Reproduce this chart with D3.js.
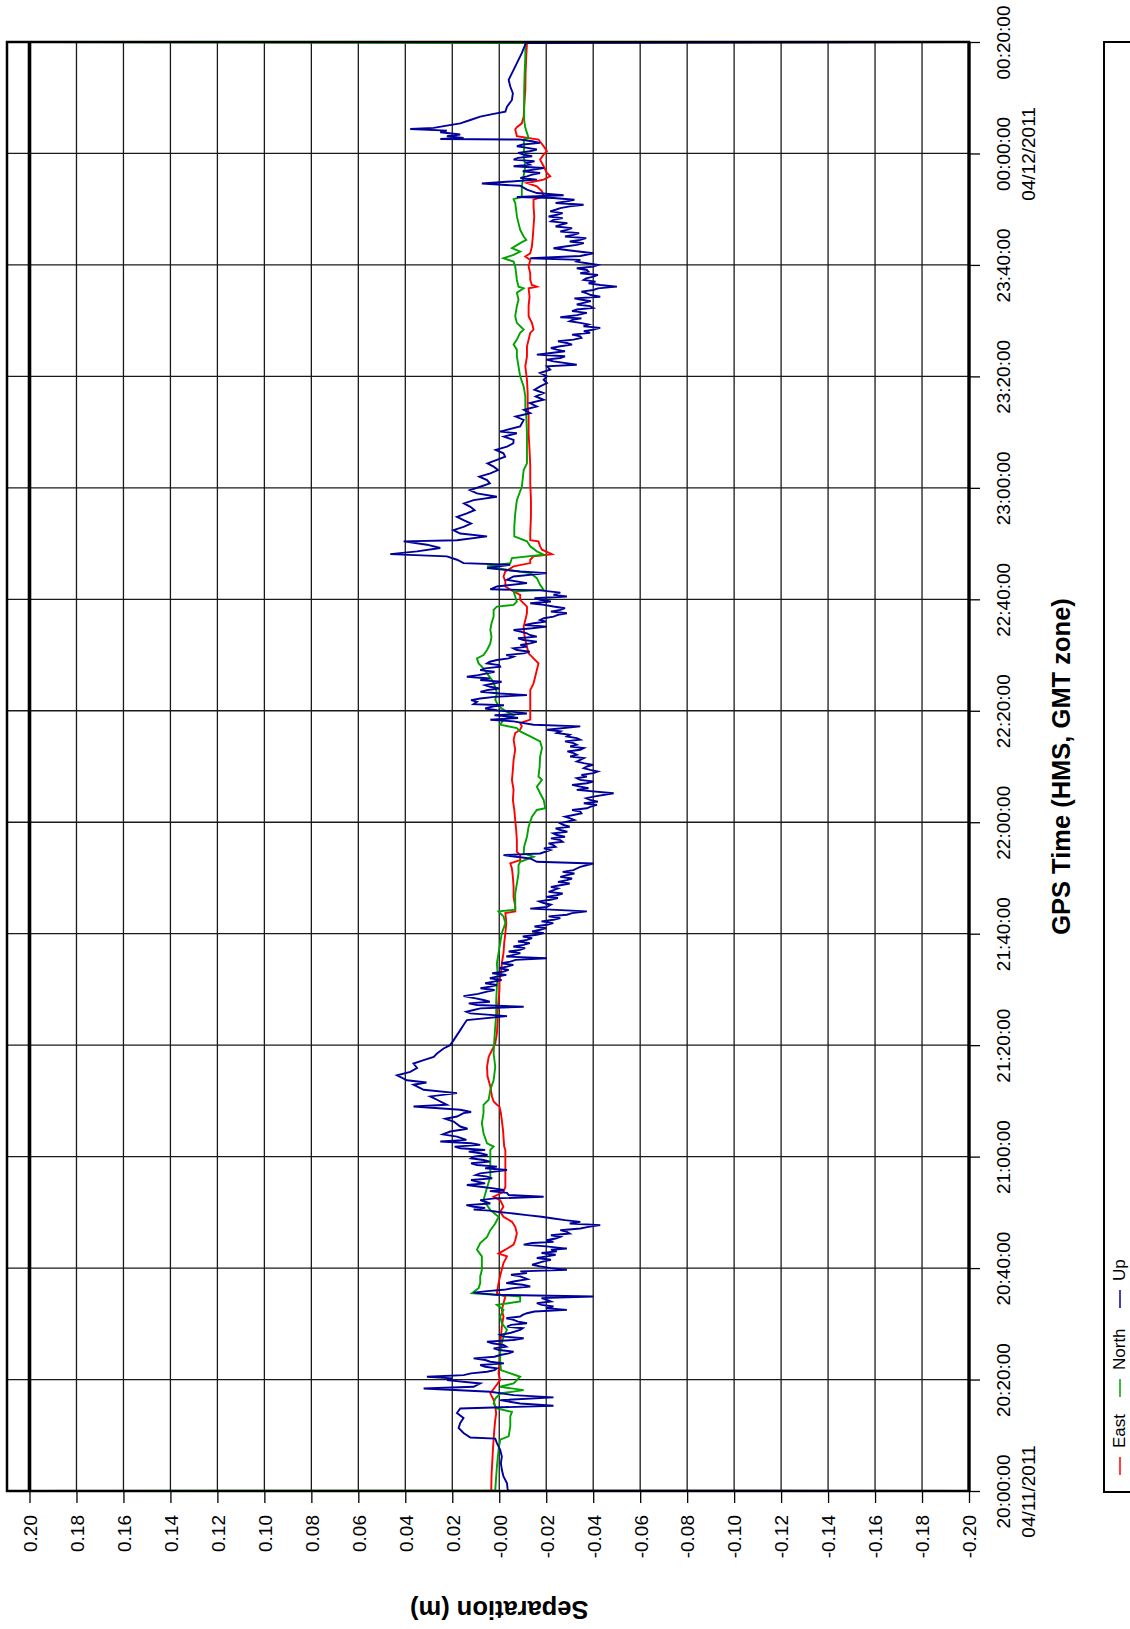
<!DOCTYPE html>
<html><head><meta charset="utf-8">
<script src="https://cdn.jsdelivr.net/npm/d3@7"></script>
<style>
body{margin:0;background:#fff}
svg{display:block}
text{font-family:"Liberation Sans",Arial,sans-serif;fill:#000}
</style>
</head><body>
<svg id="chart" width="1130" height="1629"></svg>
<script>
// ---------- data ----------
const timeDomain = ["2011-04-11T20:00:00Z", "2011-04-12T00:20:00Z"];
const valueTicks = [0.20,0.18,0.16,0.14,0.12,0.10,0.08,0.06,0.04,0.02,0,-0.02,-0.04,-0.06,-0.08,-0.10,-0.12,-0.14,-0.16,-0.18,-0.20];
const valueTickLabels = ["0.20","0.18","0.16","0.14","0.12","0.10","0.08","0.06","0.04","0.02","-0.00","-0.02","-0.04","-0.06","-0.08","-0.10","-0.12","-0.14","-0.16","-0.18","-0.20"];
const seriesNames = ["East","North","Up"];
const seriesColors = ["#ff0000","#00a300","#00009a"];
const xTitle = "GPS Time (HMS, GMT zone)";
const yTitle = "Separation (m)";

// [minutes after 20:00:00, separation in mm]
const eastData = [
[0,3.0],[0.2,3.4],[2.6,3.3],[5.0,3.0],[7.4,2.7],[9.2,2.4],[11.0,2.1],[12.8,1.7],[13.9,1.3],[15.1,1.7],[16.3,2.4],[17.5,3.8],[18.7,1.7],[19.9,-0.4],[21.1,0.3],[22.9,-0.1],[25.3,-0.4],[27.7,-0.7],[29.5,-1.1],[31.3,-1.8],[32.5,-1.1],[33.7,-1.8],[34.9,-2.6],[35.5,1.0],[37.3,0.3],[39.1,-0.7],[40.9,-1.8],[42.1,-3.3],[42.6,0.3],[43.3,-2.6],[44.2,-6.1],[45.0,-6.8],[46.2,-7.5],[47.4,-6.8],[48.3,-5.4],[49.2,-1.8],[50.1,-0.4],[51.0,-1.8],[52.2,-0.4],[52.8,2.4],[53.7,-1.8],[54.6,-2.6],[57.6,-2.6],[61.2,-2.6],[61.8,-2.1],[64.8,-1.6],[67.8,-0.7],[69.0,-0.1],[69.3,1.0],[69.9,2.4],[70.8,3.1],[72.6,3.8],[74.4,5.0],[76.1,5.2],[77.9,4.5],[79.1,3.1],[80.3,1.7],[82.1,1.0],[84.5,0.7],[86.3,0.7],[88.1,0.3],[89.9,-0.1],[91.7,-0.1],[92.9,-0.7],[94.7,-1.1],[96.5,-1.8],[98.3,-2.1],[100.1,-2.6],[101.9,-3.0],[103.7,-2.6],[104.0,-6.8],[104.9,-6.8],[106.6,-6.1],[108.4,-6.1],[110.2,-5.8],[111.7,-5.4],[112.6,-4.7],[113.2,-8.9],[114.1,-8.9],[114.7,-7.5],[116.8,-7.5],[118.6,-7.2],[120.4,-6.8],[122.2,-6.4],[124.0,-5.8],[125.8,-6.1],[127.6,-5.4],[129.4,-5.8],[131.2,-6.1],[133.0,-6.8],[134.8,-6.1],[136.0,-6.8],[136.6,-8.9],[137.2,-9.6],[137.8,-8.9],[138.4,-13.2],[140.1,-13.2],[142.5,-13.2],[143.7,-13.2],[144.9,-14.6],[146.1,-15.3],[147.3,-16.0],[148.5,-16.7],[149.4,-14.6],[150.3,-12.5],[151.5,-11.8],[152.7,-11.1],[153.9,-10.6],[155.1,-10.4],[156.3,-11.1],[157.5,-11.8],[158.7,-11.8],[159.9,-8.9],[160.8,-8.9],[161.4,-6.1],[162.3,-2.6],[163.2,-2.6],[164.1,-1.8],[165.0,-2.6],[165.9,-6.1],[166.5,-13.2],[167.1,-13.2],[167.7,-14.6],[168.1,-22.4],[168.9,-18.2],[169.5,-17.4],[170.4,-16.7],[170.6,-13.2],[171.8,-13.2],[174.8,-13.5],[177.8,-13.5],[180.8,-13.2],[183.8,-13.2],[186.8,-12.9],[189.8,-12.5],[192.8,-12.5],[194.6,-12.1],[197.0,-12.1],[199.4,-11.8],[201.8,-11.1],[203.6,-11.8],[205.4,-11.8],[206.6,-12.5],[207.8,-13.2],[208.4,-14.6],[209.6,-13.9],[210.8,-12.5],[212.6,-12.5],[214.3,-12.9],[215.8,-12.5],[216.1,-16.0],[216.4,-13.9],[217.3,-13.2],[218.5,-13.2],[219.7,-12.5],[220.9,-13.2],[221.5,-11.1],[222.1,-13.2],[223.3,-13.9],[225.1,-14.3],[226.9,-14.6],[228.7,-14.9],[230.5,-14.6],[231.7,-14.6],[232.3,-18.9],[233.2,-18.2],[234.1,-16.0],[234.7,-11.8],[235.3,-18.9],[235.9,-21.7],[236.5,-20.3],[237.7,-18.9],[238.9,-17.4],[239.8,-18.9],[240.4,-20.3],[241.3,-18.9],[242.5,-16.7],[243.1,-7.5],[244.3,-6.8],[244.7,-7.5],[245.4,-9.6],[246.6,-10.4],[248.4,-10.6],[251.4,-11.1],[254.4,-11.2],[257.4,-11.5],[259.8,-11.8],[260.0,-11.8]
];

const northData = [
[0,200],[0.1,1.4],[0.2,1.7],[4.4,1.0],[7.4,0.3],[9.2,-0.4],[9.8,-4.0],[11.6,-4.7],[13.4,-4.7],[14.2,-5.4],[14.8,1.0],[15.7,2.4],[16.6,1.7],[17.5,-0.4],[18.1,-10.4],[18.7,-0.4],[19.3,-6.1],[19.9,-7.5],[20.5,-8.9],[21.7,-0.7],[23.5,-0.4],[25.3,-0.4],[26.5,-1.1],[27.7,-1.8],[28.9,-3.3],[30.1,-1.1],[31.3,-0.4],[32.5,-1.8],[33.4,1.0],[34.0,-8.9],[34.9,-8.9],[35.5,11.6],[36.4,8.8],[37.3,8.1],[38.5,8.1],[39.7,7.4],[40.9,7.4],[42.1,7.4],[43.3,9.5],[44.5,8.1],[45.6,5.2],[46.8,3.8],[48.0,1.7],[49.2,0.3],[50.4,3.8],[52.2,6.7],[54.0,5.5],[56.4,3.8],[58.8,3.8],[61.2,3.8],[61.8,2.4],[62.4,5.2],[64.2,6.7],[66.0,7.4],[67.8,6.7],[69.3,6.7],[70.2,4.5],[72.0,3.8],[73.7,2.4],[76.1,1.7],[78.5,2.4],[80.9,2.1],[83.3,1.7],[85.7,1.3],[88.1,1.3],[90.5,1.0],[92.9,0.7],[94.7,1.0],[96.5,0.3],[98.3,-0.4],[100.1,-1.1],[101.9,-2.6],[103.1,-1.8],[104.0,0.3],[104.3,-6.8],[105.5,-6.8],[107.2,-6.8],[109.0,-7.5],[110.8,-8.2],[112.3,-8.2],[112.9,-8.9],[113.8,-14.6],[114.4,-10.4],[115.6,-10.6],[117.4,-11.8],[119.2,-12.5],[121.0,-13.9],[122.2,-16.0],[122.5,-19.6],[124.0,-18.9],[125.2,-17.4],[126.4,-16.0],[127.6,-18.2],[128.2,-16.7],[130.0,-17.2],[131.8,-17.4],[133.3,-18.2],[134.5,-17.4],[135.4,-13.2],[136.3,-8.9],[136.9,-7.5],[137.5,-0.4],[138.4,-1.8],[139.2,-6.1],[139.8,-3.3],[140.8,0.3],[142.0,1.7],[143.1,1.0],[144.3,1.7],[145.5,3.1],[146.7,5.2],[147.6,6.7],[148.5,8.8],[149.4,9.5],[150.0,6.7],[150.9,5.2],[152.1,3.8],[153.3,3.3],[154.5,3.8],[155.7,3.3],[156.9,2.4],[158.1,2.4],[158.7,1.0],[159.0,-6.1],[159.6,-7.5],[160.5,-6.8],[161.4,-6.1],[161.7,-18.9],[162.6,-17.4],[163.8,-16.0],[164.7,-13.2],[165.3,-3.3],[165.9,5.2],[166.5,-4.7],[167.4,-5.4],[168.0,-18.9],[168.6,-16.0],[169.5,-13.2],[170.4,-11.8],[171.3,-6.4],[173.0,-6.4],[175.4,-6.8],[177.8,-7.5],[180.2,-9.6],[182.0,-10.1],[183.2,-10.4],[184.4,-11.8],[186.8,-11.8],[189.8,-11.8],[192.8,-11.5],[194.6,-11.1],[196.4,-11.1],[198.2,-10.4],[200.0,-8.9],[201.8,-8.2],[203.6,-7.5],[204.8,-7.5],[205.7,-6.1],[206.6,-7.5],[207.8,-8.9],[208.4,-10.4],[209.6,-7.5],[210.8,-6.8],[212.6,-7.5],[213.8,-8.2],[215.0,-7.5],[215.8,-10.4],[216.1,-8.2],[217.3,-7.5],[218.5,-7.2],[219.7,-6.8],[220.6,-6.1],[221.2,-1.8],[221.8,-6.1],[222.4,-8.9],[223.0,-5.4],[223.9,-8.9],[224.5,-11.5],[225.1,-10.4],[226.3,-8.9],[227.5,-8.2],[228.7,-7.5],[229.9,-7.2],[231.1,-6.8],[231.8,-6.1],[232.2,-9.6],[232.9,-9.6],[234.1,-9.6],[235.3,-10.1],[236.5,-10.6],[237.7,-11.1],[239.5,-10.4],[241.3,-10.6],[242.5,-10.4],[242.8,-12.5],[243.7,-11.8],[244.6,-11.1],[246.0,-10.6],[248.4,-10.6],[251.4,-10.6],[254.4,-10.8],[257.4,-11.1],[259.8,-11.1],[260.0,200]
];

const upData = [
[0,-200],[0.1,-3.7],[0.5,-3.5],[1.4,-3.3],[2.6,-1.8],[3.8,-1.1],[5.0,-0.7],[6.2,-1.1],[7.4,-0.4],[8.6,1.0],[9.4,1.7],[9.6,12.3],[10.4,15.2],[11.3,17.3],[12.2,16.6],[13.1,15.2],[14.0,18.0],[14.8,16.6],[15.3,-23.1],[15.7,-8.9],[16.3,-0.4],[16.8,-23.1],[17.2,-6.1],[17.8,3.8],[18.4,32.2],[18.7,10.9],[19.3,8.1],[19.9,22.3],[20.2,20.0],[20.5,30.8],[20.8,15.2],[21.1,12.0],[21.4,5.2],[21.7,2.0],[22.0,1.0],[22.3,6.0],[22.6,8.1],[22.9,-2.0],[23.2,3.8],[23.5,6.0],[23.8,10.9],[24.1,2.0],[24.4,-0.4],[24.7,-4.0],[25.0,-6.1],[25.3,0.0],[25.6,2.4],[25.9,-3.0],[26.2,-1.8],[26.5,3.0],[26.8,5.2],[27.1,-6.0],[27.4,-10.4],[27.7,-2.0],[28.0,-0.4],[28.4,-5.0],[28.9,-8.9],[29.2,-10.0],[29.5,-3.3],[29.8,-5.0],[30.1,-11.8],[30.4,-8.0],[30.7,-6.1],[31.0,-3.0],[31.3,-8.9],[31.6,-10.0],[31.9,-11.8],[32.2,-15.0],[32.5,-28.8],[32.8,-20.0],[33.1,-23.1],[33.4,-18.0],[33.7,-16.0],[34.0,-22.0],[34.3,-20.3],[34.6,-18.0],[34.9,-40.1],[35.2,1.0],[35.6,10.9],[35.9,4.0],[36.1,-1.8],[36.4,-6.0],[36.7,-13.2],[37.0,-10.0],[37.3,-3.0],[37.6,-6.1],[38.0,-12.0],[38.5,-8.9],[38.8,-5.0],[39.1,-11.8],[39.4,-9.0],[39.7,-28.8],[40.0,-22.0],[40.3,-17.4],[40.6,-14.0],[41.2,-18.9],[41.5,-22.0],[41.8,-16.0],[42.1,-20.3],[42.4,-24.0],[42.7,-18.0],[43.0,-24.5],[43.3,-22.0],[43.5,-28.8],[43.9,-20.0],[44.2,-10.4],[44.5,-14.0],[44.7,-23.1],[45.0,-20.0],[45.3,-24.0],[45.6,-26.0],[45.9,-22.0],[46.2,-30.0],[46.5,-28.8],[46.8,-26.0],[47.1,-34.5],[47.4,-38.0],[47.7,-43.0],[48.0,-30.0],[48.3,-34.5],[48.6,-28.0],[48.9,-23.1],[49.2,-18.0],[49.5,-11.8],[49.8,-6.0],[50.1,1.0],[50.3,4.0],[50.5,10.9],[50.8,6.0],[51.0,10.9],[51.3,14.0],[51.6,3.8],[51.9,6.0],[52.2,8.1],[52.5,2.0],[52.8,-18.9],[53.1,-4.0],[53.5,-3.3],[53.8,4.0],[54.0,-2.0],[54.3,2.4],[54.6,8.0],[54.9,13.8],[55.2,6.0],[55.5,9.5],[55.8,12.0],[56.1,3.0],[56.4,5.2],[56.7,10.0],[57.0,8.1],[57.3,2.0],[57.6,-3.3],[57.9,6.0],[58.2,1.0],[58.5,9.5],[58.8,12.0],[59.1,4.0],[59.4,6.7],[59.7,12.0],[60.0,10.9],[60.3,5.0],[60.6,8.1],[60.9,13.0],[61.2,6.0],
[61.5,16.6],[61.8,19.0],[62.1,8.1],[62.4,12.0],[62.7,25.1],[63.0,14.0],[63.6,18.0],[64.0,24.0],[64.5,20.9],[65.0,13.5],[65.4,16.6],[66.3,19.4],[66.8,23.0],[67.2,18.0],[67.8,15.2],[68.0,12.0],[68.4,16.6],[69.0,36.5],[69.3,22.3],[70.2,26.5],[70.8,29.4],[71.4,18.0],[72.0,32.2],[72.9,36.5],[73.3,31.0],[73.7,39.3],[74.6,43.5],[75.2,37.9],[75.9,35.0],[76.7,36.5],[77.3,32.2],[77.9,27.9],[78.5,26.5],[79.4,23.7],[80.0,20.9],[80.9,19.4],[81.8,18.0],[82.7,16.6],[83.6,15.2],[84.5,13.8],[85.2,-3.3],[85.7,12.3],[86.0,14.0],[86.3,10.9],[86.6,8.0],[86.9,-10.4],[87.2,9.5],[87.5,13.0],[87.8,4.0],[88.1,6.7],[88.4,10.0],[88.8,15.2],[89.2,9.0],[89.6,5.2],[89.9,2.0],[90.2,8.0],[90.5,3.8],[90.8,1.0],[91.1,6.0],[91.4,2.4],[91.7,-1.0],[92.0,4.0],[92.3,1.0],[92.6,-3.0],[92.9,3.0],[93.2,-1.8],[93.5,-4.0],[93.8,0.0],[94.1,-3.3],[94.4,-6.0],[94.7,-1.0],[95.0,-4.7],[95.3,-7.0],[95.6,-20.3],[95.9,-3.0],[96.2,-6.1],[96.5,-9.0],[96.8,-4.0],[97.1,-8.9],[97.4,-11.0],[97.7,-6.0],[98.0,-10.4],[98.3,-13.0],[98.6,-8.0],[98.9,-11.8],[99.2,-14.0],[99.5,-10.0],[99.8,-16.0],[100.1,-19.0],[100.4,-14.0],[100.7,-17.4],[101.0,-20.0],[101.3,-15.0],[101.6,-20.3],[101.9,-23.0],[102.2,-18.0],[102.5,-23.1],[102.8,-26.0],[103.1,-21.0],[103.4,-28.8],[103.7,-31.0],[104.0,-37.3],[104.5,-13.2],[104.8,-20.3],[105.2,-22.0],[105.5,-18.9],[105.8,-17.0],[106.1,-21.7],[106.4,-25.0],[106.6,-20.0],[106.9,-24.5],[107.2,-27.0],[107.5,-21.0],[107.8,-23.1],[108.1,-25.0],[108.4,-22.0],[108.7,-26.0],[109.0,-30.0],[109.3,-25.0],[109.6,-28.8],[109.9,-31.0],[110.2,-26.0],[110.5,-28.8],[110.8,-32.0],[111.1,-27.0],[111.4,-31.6],[111.7,-33.0],[112.0,-34.5],[112.6,-40.1],[112.9,-16.0],[113.5,-13.2],[114.1,-1.8],[114.4,-17.4],[115.0,-21.7],[115.3,-19.0],[115.6,-24.0],[115.9,-23.1],[116.2,-21.0],[116.5,-27.0],[116.8,-26.0],[117.1,-22.0],[117.4,-28.0],[117.7,-24.5],[118.0,-23.0],[118.3,-29.0],[118.6,-26.0],[118.9,-24.0],[119.2,-30.0],[119.5,-27.4],[119.8,-26.0],[120.1,-28.8],[120.4,-32.0],[120.7,-30.2],[121.0,-28.0],[121.3,-31.6],[121.6,-35.0],[121.9,-34.5],[122.2,-31.0],[122.5,-37.3],[122.8,-39.0],[123.1,-41.6],[123.4,-36.0],[123.7,-42.0],[124.0,-38.7],[124.3,-37.0],[124.6,-40.1],
[125.2,-48.7],[125.8,-33.0],[126.1,-38.0],[126.4,-34.5],[126.7,-31.0],[127.0,-37.3],[127.3,-40.0],[127.6,-34.5],[127.9,-33.0],[128.2,-37.3],[128.5,-35.0],[128.8,-40.1],[129.1,-42.0],[129.4,-38.7],[129.7,-36.0],[130.0,-37.3],[130.3,-40.0],[130.6,-35.9],[130.9,-33.0],[131.2,-34.5],[131.5,-36.0],[131.8,-30.2],[132.1,-33.0],[132.4,-31.6],[132.7,-29.0],[133.0,-34.5],[133.3,-36.0],[133.6,-30.2],[133.9,-33.0],[134.2,-31.6],[134.5,-28.0],[134.8,-34.5],[135.1,-33.0],[135.4,-28.8],[135.7,-30.0],[136.0,-24.5],[136.3,-26.0],[136.6,-20.3],[137.2,-34.5],[137.5,-14.6],[138.1,-6.1],[138.4,3.8],[138.7,-8.0],[139.0,-3.3],[139.2,2.0],[139.5,-11.8],[139.8,-6.0],[140.1,1.0],[140.4,6.0],[140.8,2.4],[141.0,-2.0],[141.2,10.9],[141.6,9.5],[141.9,12.0],[142.2,8.1],[142.5,2.0],[142.8,-11.8],[143.1,-0.4],[143.4,8.0],[143.7,5.2],[144.0,0.0],[144.3,3.8],[144.6,6.0],[144.9,2.4],[145.2,-1.0],[145.5,8.1],[145.8,4.0],[146.1,13.8],[146.4,9.0],[146.7,5.2],[147.0,2.0],[147.3,8.1],[147.6,6.0],[147.9,-0.4],[148.2,0.0],[148.5,5.2],[148.8,4.0],[149.1,1.0],[149.4,-4.0],[149.7,-6.1],[150.0,-3.0],[150.3,-10.4],[150.6,-13.0],[150.9,-7.5],[151.2,-6.0],[151.5,-11.8],[151.8,-9.0],[152.1,-13.2],[152.4,-16.0],[152.7,-10.4],[153.0,-8.0],[153.3,-16.0],[153.6,-13.0],[153.9,-11.8],[154.2,-9.0],[154.5,-6.1],[154.8,-14.0],[155.1,-20.3],[155.4,-11.0],[155.7,-14.6],[156.0,-20.0],[156.3,-17.4],[156.6,-19.0],[156.9,-23.1],[157.2,-25.0],[157.5,-28.8],[157.8,-22.0],[158.1,-26.0],[158.4,-28.0],[158.7,-23.1],[159.0,-19.0],[159.3,-13.2],[159.6,-22.0],[159.9,-17.4],[160.2,-15.0],[160.5,-28.8],[160.8,-23.1],[161.2,-26.0],[161.6,-17.4],[161.8,3.8],[162.3,1.0],[162.9,-11.8],[163.5,-3.3],[164.1,-6.1],[164.7,-20.3],[165.0,-8.9],[165.6,5.2],[166.2,-4.7],[166.5,15.2],[167.1,18.0],[167.7,22.3],[168.1,46.4],[168.6,35.0],[169.2,25.1],[169.8,30.8],[170.4,40.7],[170.6,18.0],[171.3,5.2],[171.8,16.6],[172.4,19.5],[173.0,15.2],[173.6,12.0],[174.2,15.2],[174.8,18.0],[175.4,13.8],[176.0,10.5],[176.6,12.3],[177.2,15.0],[177.8,10.9],[178.4,1.0],[179.0,9.5],[179.6,12.5],[180.2,8.1],[180.8,4.0],[181.4,5.2],[182.0,8.5],[182.6,3.8],[183.2,0.5],[183.8,2.4],[184.4,5.0],[185.0,1.0],[185.6,-2.5],[186.2,-1.8],[186.8,1.5],[187.4,-3.3],[188.0,-6.0],[188.6,-6.1],[189.2,-2.0],[189.8,-7.5],[190.1,-0.4],[191.0,-8.9],[192.2,-10.4],[192.8,-7.0],[193.4,-13.2],[194.0,-10.5],[194.6,-16.0],[195.2,-13.0],[195.8,-18.9],
[196.4,-15.5],[197.0,-18.9],[197.6,-15.0],[198.2,-17.4],[198.8,-20.3],[199.4,-18.9],[200.0,-20.3],[200.6,-17.4],[201.2,-21.7],[201.8,-20.3],[202.1,-33.0],[202.7,-23.1],[203.0,-20.0],[203.3,-26.0],[203.6,-28.0],[203.9,-16.0],[204.2,-22.0],[204.5,-28.0],[204.8,-24.5],[205.1,-22.0],[205.4,-26.0],[205.7,-31.0],[206.0,-28.8],[206.3,-25.0],[206.6,-31.6],[206.9,-35.0],[207.2,-34.5],[207.5,-31.0],[207.8,-38.7],[208.1,-36.0],[208.4,-40.1],[208.7,-43.0],[209.0,-35.9],[209.3,-38.0],[209.6,-34.5],[209.9,-30.0],[210.2,-31.6],[210.4,-35.0],[210.6,-26.0],[211.0,-33.0],[211.4,-37.3],[211.7,-31.0],[212.0,-33.0],[212.3,-40.0],[212.6,-38.7],[212.9,-33.0],[213.2,-35.9],[213.5,-39.0],[213.8,-34.5],[214.0,-32.0],[214.3,-43.0],[214.6,-39.0],[214.9,-37.3],[215.2,-35.0],[215.5,-40.1],[215.8,-42.0],[216.1,-50.1],[216.4,-43.0],[216.7,-38.0],[217.0,-41.0],[217.3,-35.9],[217.6,-37.0],[217.9,-40.1],[218.2,-42.0],[218.5,-34.5],[218.8,-38.0],[219.1,-37.3],[219.4,-33.0],[219.7,-40.1],[220.0,-42.0],[220.3,-37.3],[220.6,-33.0],[220.9,-34.5],[221.2,-13.2],[221.6,-34.5],[222.1,-40.1],[222.6,-30.2],[223.0,-23.1],[223.3,-28.0],[223.6,-33.0],[223.9,-36.0],[224.2,-30.0],[224.5,-34.5],[224.8,-37.0],[225.1,-28.0],[225.4,-31.6],[225.7,-34.0],[226.0,-26.0],[226.3,-28.8],[226.6,-31.0],[226.9,-24.0],[227.2,-26.0],[227.5,-29.0],[227.8,-22.0],[228.1,-23.1],[228.4,-27.0],[228.7,-21.0],[229.0,-24.5],[229.3,-27.0],[229.6,-21.7],[229.9,-24.0],[230.2,-26.0],[230.5,-30.0],[230.8,-35.9],[231.1,-24.0],[231.4,-28.8],[231.7,-32.0],[232.0,-23.1],[232.2,-7.5],[232.5,-27.4],[232.9,-16.0],[233.5,-11.8],[234.2,-8.9],[234.6,7.4],[235.3,-16.0],[235.6,-9.0],[235.9,-11.8],[236.2,-14.0],[236.5,-17.4],[236.8,-10.0],[237.1,-14.6],[237.4,-19.0],[237.7,-6.1],[238.0,-13.0],[238.3,-11.8],[238.6,-15.0],[238.9,-6.1],[239.2,-8.0],[239.5,-14.0],[239.8,-10.4],[240.1,-8.0],[240.4,-13.0],[240.7,-16.0],[241.0,-12.0],[241.3,-7.5],[241.6,-10.0],[241.9,-17.4],[242.2,-14.0],[242.5,-8.9],[242.6,25.1],[242.8,15.2],[243.1,22.3],[243.4,16.6],[243.8,25.1],[244.1,22.3],[244.4,37.9],[244.6,27.9],[245.0,22.3],[245.4,16.6],[246.0,12.3],[246.6,8.1],[247.1,2.4],[247.5,-2.6],[248.4,-3.3],[249.6,-5.4],[250.8,-5.8],[252.0,-4.7],[253.2,-4.0],[255.0,-6.1],[258.0,-9.6],[259.8,-11.3],[260.0,-200]
];
const seriesData = [eastData, northData, upData];

// ---------- drawing ----------
const svg = d3.select("#chart");
const t0 = new Date(timeDomain[0]);
const toDate = m => new Date(t0.getTime() + m * 60000);

const plot = {left: 7, top: 42, right: 969, bottom: 1491};
const x = d3.scaleLinear().domain([0.20, -0.20]).range([29.5, plot.right]);
const y = d3.scaleUtc().domain(timeDomain.map(d => new Date(d))).range([plot.bottom, plot.top]);
const timeTicks = y.ticks(d3.utcMinute.every(20));
const fmtTime = d3.utcFormat("%H:%M:%S");
const fmtDate = d3.utcFormat("%m/%d/%Y");

svg.append("rect").attr("width",1130).attr("height",1629).attr("fill","#fff");

// gridlines
const grid = svg.append("g").attr("stroke","#1a1a1a").attr("stroke-width",1.3);
grid.selectAll("line.v").data(valueTicks).join("line").attr("class","v")
  .attr("x1", d => x(d)).attr("x2", d => x(d)).attr("y1", plot.top).attr("y2", plot.bottom);
grid.selectAll("line.h").data(timeTicks).join("line").attr("class","h")
  .attr("y1", d => y(d)).attr("y2", d => y(d)).attr("x1", plot.left).attr("x2", plot.right);

// series (drawn under the frame)
const lineGen = d3.line().x(d => x(d[1]/1000)).y(d => y(toDate(d[0])));
seriesData.forEach((data, i) => {
  const sorted = data.slice().sort((a,b) => a[0]-b[0]);
  svg.append("path").datum(sorted).attr("d", lineGen)
    .attr("fill","none").attr("stroke", seriesColors[i]).attr("stroke-width",1.9);
});

// frame
svg.append("rect").attr("x",plot.left).attr("y",plot.top)
  .attr("width",plot.right-plot.left).attr("height",plot.bottom-plot.top)
  .attr("fill","none").attr("stroke","#000").attr("stroke-width",2.5);
svg.append("rect").attr("x",x(0.20)-1.8).attr("y",plot.top).attr("width",3.6).attr("height",plot.bottom-plot.top)
  .attr("fill","#000");
svg.append("rect").attr("x",plot.right-1.6).attr("y",plot.top).attr("width",3.2).attr("height",plot.bottom-plot.top)
  .attr("fill","#000");

// value axis (bottom in this rotated layout)
const xAxis = svg.append("g").attr("transform", `translate(0,${plot.bottom})`)
  .call(d3.axisBottom(x).tickValues(valueTicks).tickSize(12).tickSizeOuter(0)
        .tickFormat((d,i) => valueTickLabels[i]));
xAxis.select(".domain").remove();
xAxis.selectAll(".tick line").attr("stroke","#000").attr("stroke-width",1.3);
xAxis.selectAll(".tick text")
  .attr("font-size",19).attr("font-family",'"Liberation Sans",Arial,sans-serif')
  .attr("fill","#000")
  .attr("text-anchor","end").attr("x",0).attr("y",0).attr("dy","0.36em")
  .attr("transform","translate(0,24) rotate(-90)");

// time axis (right in this rotated layout)
const yAxis = svg.append("g").attr("transform", `translate(${plot.right},0)`)
  .call(d3.axisRight(y).tickValues(timeTicks).tickSize(11).tickSizeOuter(0).tickFormat(""));
yAxis.select(".domain").remove();
yAxis.selectAll(".tick line").attr("stroke","#000").attr("stroke-width",1.3);
yAxis.selectAll(".tick text").remove();
yAxis.selectAll(".tick").each(function(d, i) {
  const g = d3.select(this);
  g.append("text").attr("transform","translate(41,0) rotate(-90)")
    .attr("text-anchor","middle").attr("font-size",19).attr("fill","#000").text(fmtTime(d));
  if (i === 0 || (d.getUTCHours() === 0 && d.getUTCMinutes() === 0)) {
    g.append("text").attr("transform","translate(66,0) rotate(-90)")
      .attr("text-anchor","middle").attr("font-size",19).attr("fill","#000").text(fmtDate(d));
  }
});

// titles
svg.append("text").attr("transform",`translate(1070,${(plot.top+plot.bottom)/2}) rotate(-90)`)
  .attr("text-anchor","middle").attr("font-size",25.5).attr("font-weight","bold").text(xTitle);
svg.append("text").attr("transform",`translate(${(x(0.2)+x(-0.2))/2},1601) rotate(180)`)
  .attr("text-anchor","middle").attr("font-size",25.5).attr("font-weight","bold").text(yTitle);

// legend
const legend = svg.append("g");
legend.append("rect").attr("x",1104).attr("y",plot.top).attr("width",60).attr("height",plot.bottom-plot.top+1)
  .attr("fill","#fff").attr("stroke","#000").attr("stroke-width",2);
const legendStart = [1475, 1397, 1308];
seriesNames.forEach((name, i) => {
  const y0 = legendStart[i];
  legend.append("line").attr("x1",1120).attr("x2",1120).attr("y1",y0).attr("y2",y0-18)
    .attr("stroke",seriesColors[i]).attr("stroke-width",1.5);
  legend.append("text").attr("transform",`translate(1125,${y0-27}) rotate(-90)`)
    .attr("font-size",17).text(name);
});
</script>
</body></html>
